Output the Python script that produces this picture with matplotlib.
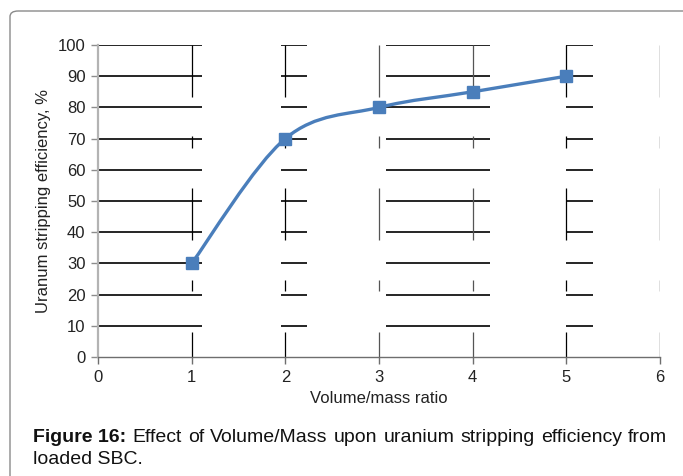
import matplotlib
matplotlib.use("Agg")
import matplotlib.pyplot as plt
from matplotlib.path import Path
from matplotlib.patches import PathPatch, FancyBboxPatch
import numpy as np

# ---- data ----
x_vals = [1, 2, 3, 4, 5]
y_vals = [30, 70, 80, 85, 90]
x_ticks = [0, 1, 2, 3, 4, 5, 6]
y_ticks = [0, 10, 20, 30, 40, 50, 60, 70, 80, 90, 100]
x_label = "Volume/mass ratio"
y_label = "Uranum stripping efficiency, %"
caption_bold = "Figure 16:"
caption_line1 = "Effect of Volume/Mass upon uranium stripping efficiency from"
caption_line2 = "loaded SBC."

# ---- style ----
LINE_COLOR = "#4a7ebb"
FONT = ["Liberation Sans", "DejaVu Sans"]
plt.rcParams['font.family'] = FONT

fig = plt.figure(figsize=(6.83, 4.76), dpi=100)
ax = fig.add_axes([98/683, 1-357/476, (660-98)/683, (357-45)/476])
ax.set_xlim(0, 6)
ax.set_ylim(0, 100)

# broken gridline rendering (style)
h_segments = [(0, 1.11), (1.95, 2.23), (3.07, 4.18), (5.0, 5.29)]
v_segments = [(0, 8), (21, 24.7), (37.5, 54.2), (67, 70.8), (83.4, 100)]
v_colors = {1: "black", 2: "black", 3: "#555555", 4: "#555555", 5: "black", 6: "black"}
for yv in y_ticks[1:]:
    for a, b in h_segments:
        ax.hlines(yv, a, b, color="black", lw=1.2, zorder=1)
for xv in x_ticks[1:]:
    for a, b in v_segments:
        ax.vlines(xv, a, b, color=v_colors[xv], lw=0.9, zorder=1)

# smoothed line (Catmull-Rom style bezier as in spreadsheet "smoothed line")
pts = np.column_stack([x_vals, y_vals]).astype(float)
verts = [tuple(pts[0])]
codes = [Path.MOVETO]
n = len(pts)
for i in range(n - 1):
    p0 = pts[i - 1] if i > 0 else pts[i]
    p1 = pts[i]
    p2 = pts[i + 1]
    p3 = pts[i + 2] if i + 2 < n else pts[i + 1]
    c1 = p1 + (p2 - p0) / 6.0
    c2 = p2 - (p3 - p1) / 6.0
    verts += [tuple(c1), tuple(c2), tuple(p2)]
    codes += [Path.CURVE4] * 3
ax.add_patch(PathPatch(Path(verts, codes), facecolor="none", edgecolor=LINE_COLOR,
                       lw=2.4, zorder=3, capstyle="round"))
ax.plot(x_vals, y_vals, linestyle="none", marker="s", markersize=8.5,
        color=LINE_COLOR, zorder=4)

# axes styling
for s in ["top", "right"]:
    ax.spines[s].set_visible(False)
ax.spines["left"].set_color("#b3b3b3")
ax.spines["left"].set_linewidth(1.6)
ax.spines["bottom"].set_color("#6e6e6e")
ax.spines["bottom"].set_linewidth(1.0)
ax.set_xticks(x_ticks)
ax.set_yticks(y_ticks)
ax.tick_params(axis="y", direction="out", length=5, width=1, color="#8c8c8c",
               labelsize=12, pad=4, labelcolor="#222222")
ax.tick_params(axis="x", direction="out", length=5, width=1, color="#6e6e6e",
               labelsize=12, pad=4, labelcolor="#222222")
ax.set_xlabel(x_label, fontsize=12, labelpad=5, color="#222222")
ax.set_ylabel(y_label, fontsize=12, labelpad=5, color="#222222")
ax.patch.set_alpha(0)

# border
fig.patches.append(FancyBboxPatch((10/683, -0.1), 1.2, 1 - 11/476 + 0.1,
                                  boxstyle="round,pad=0,rounding_size=0.012",
                                  transform=fig.transFigure, fill=False,
                                  edgecolor="#8a8a8a", lw=1.0))

# caption (justified first line)
cap_font = ["Liberation Sans", "DejaVu Sans"]
fig.canvas.draw()
r = fig.canvas.get_renderer()
W, H = fig.bbox.width, fig.bbox.height
x0_px, x1_px = 33, 667
y1 = 1 - 437/476
y2 = 1 - 460/476
cs = 14
words = [(caption_bold, "bold")] + [(w, "normal") for w in caption_line1.split()]
texts = []
widths = []
for w, wt in words:
    t = fig.text(0, y1, w, fontsize=cs, fontweight=wt, family=cap_font,
                 va="center", ha="left", color="#111111")
    bb = t.get_window_extent(renderer=r)
    texts.append(t)
    widths.append(bb.width)
gap = ((x1_px - x0_px) - sum(widths)) / (len(words) - 1)
cur = x0_px
for t, w in zip(texts, widths):
    t.set_x(cur / W)
    cur += w + gap
fig.text(x0_px / W, y2, caption_line2, fontsize=cs, family=cap_font,
         va="center", ha="left", color="#111111")

fig.savefig("out.png", dpi=100)
